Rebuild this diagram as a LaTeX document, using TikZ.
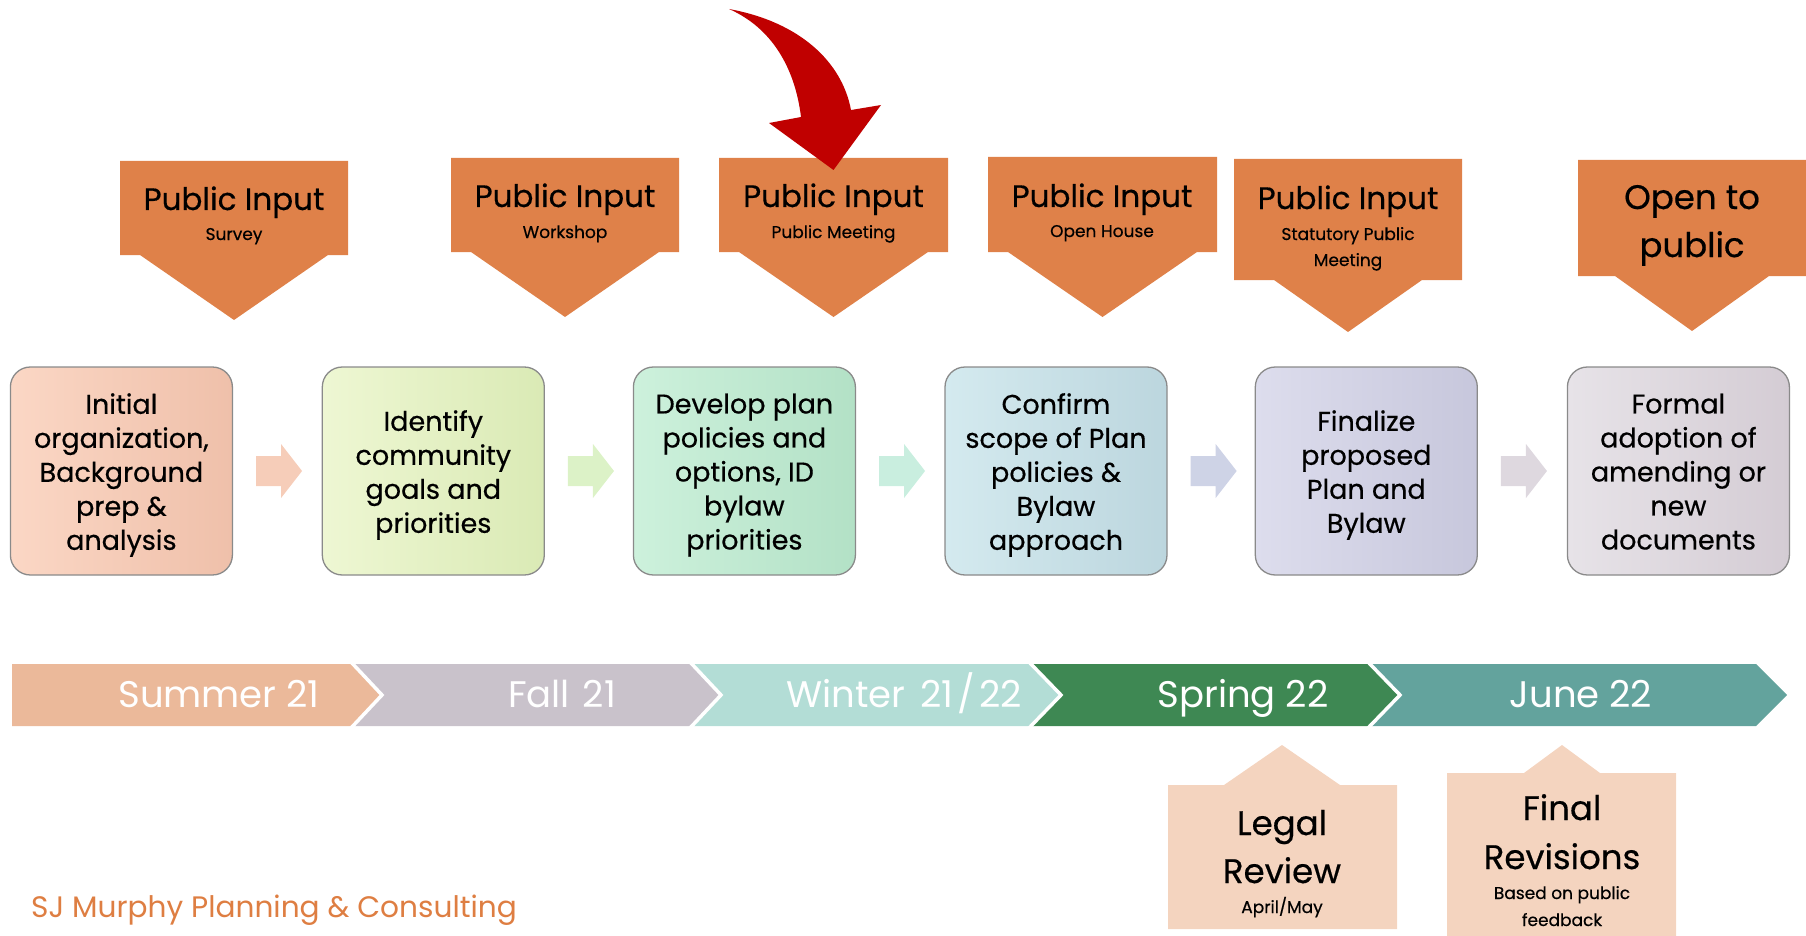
\documentclass[tikz,border=0pt]{standalone}
\usepackage{fontspec}
\setmainfont{Poppins}[FakeBold=0.5]
\newfontfamily\plainfont{Poppins}
\usetikzlibrary{calc}

\definecolor{callout}{HTML}{DF8149}
\definecolor{pointer}{HTML}{C00000}
\definecolor{notefill}{HTML}{F4D4BF}
\definecolor{firm}{HTML}{DE7E42}
\definecolor{boxline}{HTML}{8A8A8A}
% stage box gradients
\definecolor{bAl}{HTML}{FBD7C5}\definecolor{bAr}{HTML}{EFC0AA}
\definecolor{bBl}{HTML}{EEF7D3}\definecolor{bBr}{HTML}{DAEAB5}
\definecolor{bCl}{HTML}{CDF1DC}\definecolor{bCr}{HTML}{B3E1C6}
\definecolor{bDl}{HTML}{D4EAEF}\definecolor{bDr}{HTML}{BCD6DE}
\definecolor{bEl}{HTML}{DDDDED}\definecolor{bEr}{HTML}{C7C7DC}
\definecolor{bFl}{HTML}{E7E3E8}\definecolor{bFr}{HTML}{D4CCD4}
% small block arrows
\definecolor{aA}{HTML}{F6CDB9}
\definecolor{aB}{HTML}{DCF2C7}
\definecolor{aC}{HTML}{C9EEDF}
\definecolor{aD}{HTML}{CED3E6}
\definecolor{aE}{HTML}{DED8DF}
% timeline
\definecolor{tA}{HTML}{EBB99A}
\definecolor{tB}{HTML}{C9C2CB}
\definecolor{tC}{HTML}{B3DDD6}
\definecolor{tD}{HTML}{3E8853}
\definecolor{tE}{HTML}{63A39D}

\tikzset{
  stagebox/.style={draw=boxline, line width=1.3pt, rounded corners=20pt,
    minimum width=222pt, minimum height=208pt, inner sep=0pt},
  stagetext/.style={inner sep=0pt, align=center, yshift=-4pt,
    font=\fontsize{27}{34}\selectfont},
  titletext/.style={inner sep=0pt, anchor=base, font=\fontsize{31}{38}\selectfont},
  subtext/.style={inner sep=0pt, anchor=base, font=\fontsize{17}{20}\selectfont},
  periodtext/.style={inner sep=0pt, anchor=base, text=white,
    font=\plainfont\fontsize{37}{44}\selectfont},
  notetitle/.style={inner sep=0pt, anchor=base, font=\fontsize{34}{40}\selectfont},
}

% downward callout: left, right, top, bottom, notch inset, tip y
\newcommand{\calloutdown}[6]{%
  \fill[callout] (#1,#3) -- (#2,#3) -- (#2,#4) -- ({#2-#5},#4)
    -- ({(#1+#2)/2},#6) -- ({#1+#5},#4) -- (#1,#4) -- cycle;}
% upward callout: left, right, top, bottom, base left, base right, tip y
\newcommand{\calloutup}[7]{%
  \fill[notefill] (#1,#3) -- (#5,#3) -- ({(#5+#6)/2},#7) -- (#6,#3)
    -- (#2,#3) -- (#2,#4) -- (#1,#4) -- cycle;}
% block arrow after a stage box
\newcommand{\stagearrow}[2]{%
  \fill[#2] ($(#1.east)+(23,-15)$) -- ++(25,0) -- ++(0,-12) -- ++(21,27)
    -- ++(-21,27) -- ++(0,-12) -- ++(-25,0) -- cycle;}

\begin{document}
\begin{tikzpicture}[x=1pt,y=-1pt]
\useasboundingbox (0,0) rectangle (1806,936);

% ---- public input callouts ----
\calloutdown{120}{348}{161}{255}{20}{320}
\calloutdown{451}{679}{158}{252}{20}{317}
\calloutdown{719}{948}{158}{252}{20}{317}
\calloutdown{988}{1217}{157}{252}{20}{317}
\calloutdown{1234}{1462}{159}{280}{40}{332}
\calloutdown{1578}{1806}{160}{276}{37}{331}

\node[titletext] (ti1) at (234,210) {Public Input};
\node[subtext]   (su1) at (234,240) {Survey};
\node[titletext] (ti2) at (565,207) {Public Input};
\node[subtext]   (su2) at (565,238) {Workshop};
\node[titletext] (ti3) at (833.5,207) {Public Input};
\node[subtext]   (su3) at (833.5,238) {Public Meeting};
\node[titletext] (ti4) at (1102,207) {Public Input};
\node[subtext]   (su4) at (1102,237) {Open House};
\node[titletext] (ti5) at (1348,209) {Public Input};
\node[subtext]   (su5) at (1348,240) {Statutory Public};
\node[subtext]   (sv5) at (1348,266) {Meeting};
\node[titletext, font=\fontsize{34}{40}\selectfont] (ti6) at (1692,209) {Open to};
\node[titletext, font=\fontsize{34}{40}\selectfont] (tj6) at (1692,257) {public};

% ---- red pointer ----
\fill[pointer] (729,9) .. controls (800,22) and (842,62) .. (851,110)
  -- (881,105) -- (833.5,170) -- (769,123) -- (801,117)
  .. controls (795,68) and (772,28) .. (729,9) -- cycle;

% ---- stage boxes ----
\node[stagebox, left color=bAl, right color=bAr] (s1) at (121.4,471) {};
\node[stagebox, left color=bBl, right color=bBr] (s2) at (433.3,471) {};
\node[stagebox, left color=bCl, right color=bCr] (s3) at (744.4,471) {};
\node[stagebox, left color=bDl, right color=bDr] (s4) at (1056,471) {};
\node[stagebox, left color=bEl, right color=bEr] (s5) at (1366.3,471) {};
\node[stagebox, left color=bFl, right color=bFr] (s6) at (1678.4,471) {};

\node[stagetext] (l1) at (s1.center) {Initial\\organization,\\Background\\prep \&\\analysis};
\node[stagetext] (l2) at (s2.center) {Identify\\community\\goals and\\priorities};
\node[stagetext] (l3) at (s3.center) {Develop plan\\policies and\\options, ID\\bylaw\\priorities};
\node[stagetext] (l4) at (s4.center) {Confirm\\scope of Plan\\policies \&\\Bylaw\\approach};
\node[stagetext] (l5) at (s5.center) {Finalize\\proposed\\Plan and\\Bylaw};
\node[stagetext] (l6) at (s6.center) {Formal\\adoption of\\amending or\\new\\documents\vphantom{p}};

\stagearrow{s1}{aA}
\stagearrow{s2}{aB}
\stagearrow{s3}{aC}
\stagearrow{s4}{aD}
\stagearrow{s5}{aE}

% ---- timeline chevrons ----
\fill[tA] (12,664) -- (351,664) -- (382,695) -- (351,726) -- (12,726) -- cycle;
\fill[tB] (351,664) -- (690,664) -- (721,695) -- (690,726) -- (351,726) -- (382,695) -- cycle;
\fill[tC] (690,664) -- (1029,664) -- (1061,695) -- (1029,726) -- (690,726) -- (721,695) -- cycle;
\fill[tD] (1029,664) -- (1368,664) -- (1400,695) -- (1368,726) -- (1029,726) -- (1061,695) -- cycle;
\fill[tE] (1368,664) -- (1756,664) -- (1787,695) -- (1756,726) -- (1368,726) -- (1400,695) -- cycle;
\foreach \s/\t in {351/382, 690/721, 1029/1061, 1368/1400}
  \draw[white, line width=3.5pt] (\s,662) -- (\t,695) -- (\s,728);

\node[periodtext] (p1) at (219,707) {Summer 21};
\node[periodtext] (p2) at (562,707) {Fall\hspace{0.35em}21};
\node[periodtext] (p3) at (904,707) {Winter\hspace{0.4em}21\kern4pt/\kern4pt22};
\node[periodtext] (p4) at (1243,707) {Spring 22};
\node[periodtext] (p5) at (1581,707) {June 22};

% ---- review callouts ----
\calloutup{1168}{1397}{785}{929}{1224}{1340}{745}
\calloutup{1447}{1676}{773}{936}{1524}{1600}{745}

\node[notetitle] (n1) at (1282,835) {Legal};
\node[notetitle] (n2) at (1282,883) {Review};
\node[subtext]   (n3) at (1282,913) {April/May};
\node[notetitle] (m1) at (1562,820) {Final};
\node[notetitle] (m2) at (1562,869) {Revisions};
\node[subtext]   (m3) at (1562,899) {Based on public};
\node[subtext]   (m4) at (1562,926) {feedback};

% ---- firm name ----
\node[inner sep=0pt, anchor=base west, text=firm,
  font=\plainfont\fontsize{29.6}{34}\selectfont]
  (firm) at (31,917) {SJ Murphy Planning \& Consulting};
\end{tikzpicture}
\end{document}
